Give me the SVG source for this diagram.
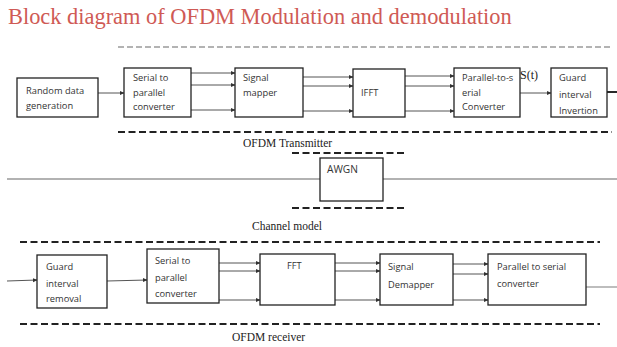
<svg xmlns="http://www.w3.org/2000/svg" width="617" height="347" viewBox="0 0 617 347">
<style>
.box{fill:#fff;stroke:#222;stroke-width:1.3}
.lbl{font-family:"Open Sans","Liberation Sans",sans-serif;font-size:9.3px;fill:#333}
.ser{font-family:"Liberation Serif","Times New Roman",serif;fill:#222}
.ln{stroke:#555;stroke-width:1;fill:none}
.dash{stroke:#222;stroke-width:2;stroke-dasharray:7,3.5;fill:none}
.gdash{stroke:#9a9a9a;stroke-width:1.5;stroke-dasharray:6,3;fill:none}
</style>
<defs>
<marker id="ah" markerWidth="5" markerHeight="5" refX="4" refY="2.5" orient="auto" markerUnits="userSpaceOnUse">
<path d="M0,0.5 L4.5,2.5 L0,4.5 Z" fill="#333"/>
</marker>
</defs>
<rect width="617" height="347" fill="#fff"/>
<text x="8" y="24" class="ser" style="font-size:22.4px;fill:#cf5a55">Block diagram of OFDM Modulation and demodulation</text>

<g id="separators">
<line class="gdash" x1="118" y1="47" x2="612" y2="47"/>
<line class="dash" x1="118" y1="132" x2="612" y2="132"/>
<line class="dash" x1="292" y1="153" x2="405" y2="153"/>
<line class="dash" x1="292" y1="208" x2="405" y2="208"/>
<line class="dash" x1="20" y1="242" x2="600" y2="242"/>
<line class="dash" x1="20" y1="324" x2="600" y2="324"/>
</g>
<text x="243" y="147" class="ser" style="font-size:11.5px">OFDM Transmitter</text>
<text x="252" y="230" class="ser" style="font-size:11.5px">Channel model</text>
<text x="232" y="341" class="ser" style="font-size:11.5px">OFDM receiver</text>

<g id="connectors">
<line class="ln" x1="98" y1="93" x2="124" y2="93" marker-end="url(#ah)"/>
<line class="ln" x1="191" y1="73" x2="235" y2="73" marker-end="url(#ah)"/>
<line class="ln" x1="191" y1="85" x2="235" y2="85" marker-end="url(#ah)"/>
<line class="ln" x1="191" y1="110" x2="235" y2="110" marker-end="url(#ah)"/>
<line class="ln" x1="303" y1="77" x2="353" y2="77" marker-end="url(#ah)"/>
<line class="ln" x1="303" y1="86" x2="353" y2="86" marker-end="url(#ah)"/>
<line class="ln" x1="303" y1="111" x2="353" y2="111" marker-end="url(#ah)"/>
<line class="ln" x1="405" y1="76" x2="454" y2="76" marker-end="url(#ah)"/>
<line class="ln" x1="405" y1="86" x2="454" y2="86" marker-end="url(#ah)"/>
<line class="ln" x1="405" y1="111" x2="454" y2="111" marker-end="url(#ah)"/>
<line class="ln" x1="520" y1="93" x2="551" y2="93" marker-end="url(#ah)"/>
<line x1="607" y1="92" x2="617" y2="92" stroke="#111" stroke-width="1.8"/>
<line x1="7" y1="179" x2="320" y2="179" stroke="#999" stroke-width="1.5"/>
<line x1="383" y1="179" x2="617" y2="179" stroke="#999" stroke-width="1.5"/>
<line class="ln" x1="7" y1="281" x2="37" y2="280" marker-end="url(#ah)"/>
<line class="ln" x1="107" y1="281" x2="147" y2="280" marker-end="url(#ah)"/>
<line class="ln" x1="219" y1="263" x2="260" y2="263" marker-end="url(#ah)"/>
<line class="ln" x1="219" y1="271" x2="260" y2="271" marker-end="url(#ah)"/>
<line class="ln" x1="219" y1="300" x2="260" y2="300" marker-end="url(#ah)"/>
<line class="ln" x1="335" y1="263" x2="380" y2="263" marker-end="url(#ah)"/>
<line class="ln" x1="335" y1="271" x2="380" y2="271" marker-end="url(#ah)"/>
<line class="ln" x1="335" y1="300" x2="380" y2="300" marker-end="url(#ah)"/>
<line class="ln" x1="453" y1="264" x2="488" y2="264" marker-end="url(#ah)"/>
<line class="ln" x1="453" y1="274" x2="488" y2="274" marker-end="url(#ah)"/>
<line class="ln" x1="453" y1="300" x2="488" y2="300" marker-end="url(#ah)"/>
<line x1="586" y1="287" x2="617" y2="287" stroke="#999" stroke-width="1.3"/>
</g>
<text x="520" y="79" class="ser" style="font-size:12px">S(t)</text>

<g id="random">
<rect class="box" x="17" y="78" width="81" height="39"/>
<text class="lbl" x="26" y="94">Random data</text>
<text class="lbl" x="26" y="109">generation</text>
</g>
<g id="s2p_tx">
<rect class="box" x="124" y="68" width="67" height="49"/>
<text class="lbl" x="133" y="81">Serial to</text>
<text class="lbl" x="133" y="96">parallel</text>
<text class="lbl" x="133" y="110">converter</text>
</g>
<g id="mapper">
<rect class="box" x="235" y="68" width="68" height="49"/>
<text class="lbl" x="243" y="81">Signal</text>
<text class="lbl" x="243" y="96">mapper</text>
</g>
<g id="ifft">
<rect class="box" x="353" y="69" width="52" height="48"/>
<text class="lbl" x="361" y="96">IFFT</text>
</g>
<g id="p2s_tx">
<rect class="box" x="454" y="68" width="66" height="49"/>
<text class="lbl" x="462" y="81">Parallel-to-s</text>
<text class="lbl" x="462" y="96">erial</text>
<text class="lbl" x="462" y="110">Converter</text>
</g>
<g id="guard_ins">
<rect class="box" x="551" y="68" width="56" height="49"/>
<text class="lbl" x="559" y="81">Guard</text>
<text class="lbl" x="559" y="98">interval</text>
<text class="lbl" x="559" y="114">Invertion</text>
</g>
<g id="awgn">
<rect class="box" x="320" y="158" width="63" height="43"/>
<text class="lbl" x="327" y="173" style="font-size:10.2px">AWGN</text>
</g>
<g id="guard_rem">
<rect class="box" x="37" y="255" width="70" height="53"/>
<text class="lbl" x="46" y="270">Guard</text>
<text class="lbl" x="46" y="287">interval</text>
<text class="lbl" x="46" y="302">removal</text>
</g>
<g id="s2p_rx">
<rect class="box" x="147" y="249" width="72" height="54"/>
<text class="lbl" x="155" y="264">Serial to</text>
<text class="lbl" x="155" y="281">parallel</text>
<text class="lbl" x="155" y="297">converter</text>
</g>
<g id="fft">
<rect class="box" x="260" y="254" width="75" height="51"/>
<text class="lbl" x="287" y="269">FFT</text>
</g>
<g id="demapper">
<rect class="box" x="380" y="254" width="73" height="51"/>
<text class="lbl" x="388" y="270">Signal</text>
<text class="lbl" x="388" y="288">Demapper</text>
</g>
<g id="p2s_rx">
<rect class="box" x="488" y="254" width="98" height="51"/>
<text class="lbl" x="497" y="270">Parallel to serial</text>
<text class="lbl" x="497" y="287">converter</text>
</g>
</svg>
